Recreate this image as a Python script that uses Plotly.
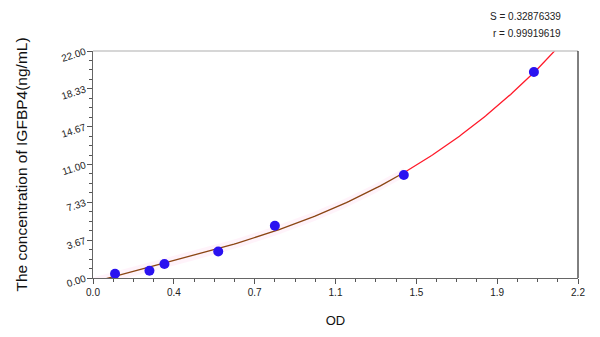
import numpy as np
import plotly.graph_objects as go

# data
od = [0.10, 0.256, 0.324, 0.568, 0.825, 1.410, 2.00]
conc = [0.42, 0.71, 1.36, 2.57, 5.07, 9.98, 19.96]
x_tickvals = [0, 2.2/6, 2*2.2/6, 3*2.2/6, 4*2.2/6, 5*2.2/6, 2.2]
x_ticktext = ['0.0', '0.4', '0.7', '1.1', '1.5', '1.9', '2.2']
y_tickvals = [0, 22/6, 2*22/6, 3*22/6, 4*22/6, 5*22/6, 22]
y_ticktext = ['0.00', '3.67', '7.33', '11.00', '14.67', '18.33', '22.00']
s_text = 'S = 0.32876339'
r_text = 'r = 0.99919619'

# fitted curve (cubic fit through the standards)
coef = np.polyfit(od, conc, 3)
split = od[-2]
xb = np.linspace(0, split, 120)
xr = np.linspace(split, 2.2, 120)
yb = np.polyval(coef, xb)
yr = np.polyval(coef, xr)

fig = go.Figure()
# faint pink confidence band along brown part
fig.add_trace(go.Scatter(x=np.concatenate([xb, xb[::-1]]),
                         y=np.concatenate([yb + 0.45, (yb - 0.45)[::-1]]),
                         fill='toself', fillcolor='rgba(255,215,240,0.3)',
                         line=dict(width=0), hoverinfo='skip', showlegend=False))
fig.add_trace(go.Scatter(x=xb, y=yb, mode='lines', line=dict(color='#8b4513', width=1.3),
                         showlegend=False))
fig.add_trace(go.Scatter(x=xr, y=yr, mode='lines', line=dict(color='#ff1a2a', width=1.3),
                         showlegend=False))
fig.add_trace(go.Scatter(x=od, y=conc, mode='markers',
                         marker=dict(color='#2a12f0', size=10, line=dict(width=0)),
                         showlegend=False))

fig.update_layout(
    width=600, height=337,
    margin=dict(l=93, r=22, t=51, b=59),
    plot_bgcolor='white', paper_bgcolor='white',
    font=dict(family='Arial, Liberation Sans, sans-serif', color='#222'),
    xaxis=dict(range=[0, 2.2], tickmode='array', tickvals=x_tickvals, ticktext=x_ticktext,
               ticks='outside', ticklen=5, tickcolor='#555', showgrid=False, zeroline=False,
               showline=True, linecolor='#666', linewidth=1,
               tickfont=dict(size=10, color='#222'),
               minor=dict(tickmode='linear', tick0=0, dtick=2.2/24, ticks='outside',
                          ticklen=3, tickcolor='#555', showgrid=False),
               title=dict(text='OD', font=dict(size=13, color='#111'), standoff=18)),
    yaxis=dict(range=[0, 22], tickmode='array', tickvals=y_tickvals, ticktext=y_ticktext,
               ticks='outside', ticklen=5, tickcolor='#555', showgrid=False, zeroline=False,
               showline=True, linecolor='#666', linewidth=1, tickangle=-18,
               tickfont=dict(size=10, color='#222'),
               minor=dict(tickmode='linear', tick0=0, dtick=22/24, ticks='outside',
                          ticklen=3, tickcolor='#555', showgrid=False),
               title=dict(text='The concentration of IGFBP4(ng/mL)',
                          font=dict(size=15.5, color='#111'), standoff=28)),
    shapes=[
        dict(type='line', xref='paper', yref='paper', x0=0, x1=1, y0=1, y1=1,
             line=dict(color='#c8c8c8', width=1.5)),
        dict(type='line', xref='paper', yref='paper', x0=1, x1=1, y0=0, y1=1,
             line=dict(color='#000', width=1)),
    ],
    annotations=[
        dict(text=s_text, xref='paper', yref='paper', x=0.969, y=1 + 34/227,
             xanchor='right', yanchor='middle', showarrow=False,
             font=dict(size=10, color='#222')),
        dict(text=r_text, xref='paper', yref='paper', x=0.969, y=1 + 18/227,
             xanchor='right', yanchor='middle', showarrow=False,
             font=dict(size=10, color='#222')),
    ],
)
fig.write_html('out.html')
